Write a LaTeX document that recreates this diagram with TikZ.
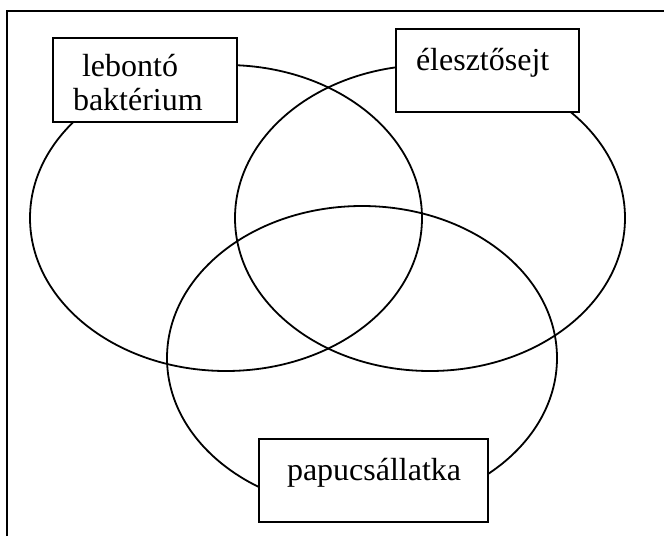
\documentclass[tikz,border=0pt]{standalone}
\usepackage{fontspec}
\setmainfont{Liberation Serif}
\begin{document}
\begin{tikzpicture}[x=1pt,y=-1pt,
  outline/.style={line width=2pt,black},
  ring/.style={line width=1.8pt,black},
  labelbox/.style={draw,line width=1.8pt,fill=white,inner sep=0pt,outer sep=0pt,anchor=north west},
  word/.style={inner sep=0pt,outer sep=0pt,anchor=base west,font=\fontsize{32}{34}\selectfont}
]
\useasboundingbox (0,0) rectangle (664,536);
% page frame (open at right and bottom)
\draw[outline] (7,536) -- (7,10.5) -- (664,10.5);
% the three sets
\draw[ring] (226,218) ellipse [x radius=196, y radius=153];
\draw[ring] (430,218) ellipse [x radius=195, y radius=153];
\draw[ring] (362,358) ellipse [x radius=195, y radius=152];
% labels
\node[labelbox,minimum width=184pt,minimum height=84pt] (bact) at (53,38) {};
\node[word] (bact1) at (82,76) {lebontó};
\node[word] (bact2) at (73,110) {baktérium};
\node[labelbox,minimum width=183pt,minimum height=83pt] (yeast) at (396,29) {};
\node[word] (yeastT) at (416,70) {élesztősejt};
\node[labelbox,minimum width=229pt,minimum height=83pt] (para) at (259,439) {};
\node[word] (paraT) at (287,480) {papucsállatka};
\end{tikzpicture}
\end{document}
